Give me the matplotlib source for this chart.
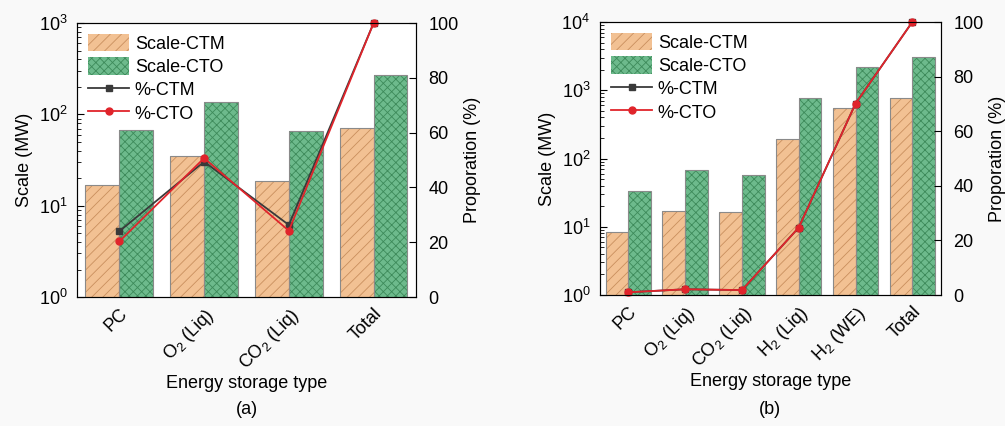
import numpy as np
import matplotlib
matplotlib.use('Agg')
import matplotlib.pyplot as plt

plt.rcParams['font.family'] = ['Liberation Sans', 'DejaVu Sans']
plt.rcParams['font.size'] = 13
plt.rcParams['hatch.linewidth'] = 0.6
plt.rcParams['mathtext.fontset'] = 'custom'
plt.rcParams['mathtext.rm'] = 'Liberation Sans'

# (a)
cats_a = ['PC', 'O$_2$ (Liq)', 'CO$_2$ (Liq)', 'Total']
ctm_a = [17, 35, 18.6, 71.5]
cto_a = [68, 138, 66, 268]
pct_ctm_a = [24.0, 49.4, 26.3, 100]
pct_cto_a = [20.3, 50.7, 24.2, 100]

# (b)
cats_b = ['PC', 'O$_2$ (Liq)', 'CO$_2$ (Liq)', 'H$_2$ (Liq)', 'H$_2$ (WE)', 'Total']
ctm_b = [8.5, 17, 16.3, 193, 544, 778]
cto_b = [33.4, 68, 57, 762, 2170, 3040]
pct_ctm_b = [1.0, 2.1, 1.8, 24.7, 70.1, 100]
pct_cto_b = [1.0, 2.1, 1.8, 24.7, 70.1, 100]

orange = '#f2c193'
orange_h = '#c98f5e'
green = '#6dba8c'
green_h = '#3d8a5a'
edge = '#8a8a8a'


def panel(fig, rect, cats, ctm, cto, p_ctm, p_cto, ymax, tag):
    ax = fig.add_axes(rect)
    ax.set_yscale('log')
    x = np.arange(len(cats))
    w = 0.4
    b1 = ax.bar(x - w / 2, ctm, w, color=orange, edgecolor=orange_h,
                hatch='///', linewidth=0, label='Scale-CTM', zorder=2)
    b2 = ax.bar(x + w / 2, cto, w, color=green, edgecolor=green_h,
                hatch='xxxx', linewidth=0, label='Scale-CTO', zorder=2)
    ax.bar(x - w / 2, ctm, w, fill=False, edgecolor=edge, linewidth=0.8, zorder=3)
    ax.bar(x + w / 2, cto, w, fill=False, edgecolor=edge, linewidth=0.8, zorder=3)
    ax.set_ylim(1, ymax)
    ax.set_xlim(-0.5, len(cats) - 0.5)
    ax.set_xticks(x)
    ax.set_xticklabels(cats, rotation=45, ha='right', rotation_mode='anchor')
    ax.tick_params(axis='x', length=0, pad=6)
    ax.tick_params(axis='y', which='major', direction='in', length=5, pad=7)
    ax.tick_params(axis='y', which='minor', direction='in', length=3)
    ax.set_ylabel('Scale (MW)')
    ax.set_xlabel('Energy storage type')
    ax.xaxis.set_label_coords(0.5, -0.285)
    ax.set_facecolor('white')
    for s in ax.spines.values():
        s.set_color('#333333')

    ax2 = ax.twinx()
    l1, = ax2.plot(x, p_ctm, color='#3a3a3a', marker='s', markersize=5, lw=1.3, label='%-CTM')
    l2, = ax2.plot(x, p_cto, color='#e0242b', marker='o', markersize=5, lw=1.3, label='%-CTO')
    ax2.set_ylim(0, 100)
    ax2.set_yticks([0, 20, 40, 60, 80, 100])
    ax2.tick_params(axis='y', direction='in', length=5, pad=9)
    ax2.set_ylabel('Proporation (%)')
    for l in (l1, l2):
        l.set_clip_on(False)

    ax2.legend([b1, b2, l1, l2], ['Scale-CTM', 'Scale-CTO', '%-CTM', '%-CTO'],
               loc='upper left', frameon=False, handlelength=2.3, handleheight=1.1,
               labelspacing=0.25, handletextpad=0.3, borderaxespad=0.2, fontsize=13)
    fig.text(rect[0] + rect[2] / 2, 0.038, tag, ha='center', va='center', fontsize=13)
    return ax


fig = plt.figure(figsize=(10.05, 4.26), dpi=100)
fig.patch.set_facecolor('#f9f9f9')
panel(fig, [0.0766, 0.3028, 0.3373, 0.643], cats_a, ctm_a, cto_a, pct_ctm_a, pct_cto_a, 1e3, '(a)')
panel(fig, [0.597, 0.3075, 0.339, 0.6408], cats_b, ctm_b, cto_b, pct_ctm_b, pct_cto_b, 1e4, '(b)')
fig.savefig('out.png', dpi=100, facecolor=fig.get_facecolor())
